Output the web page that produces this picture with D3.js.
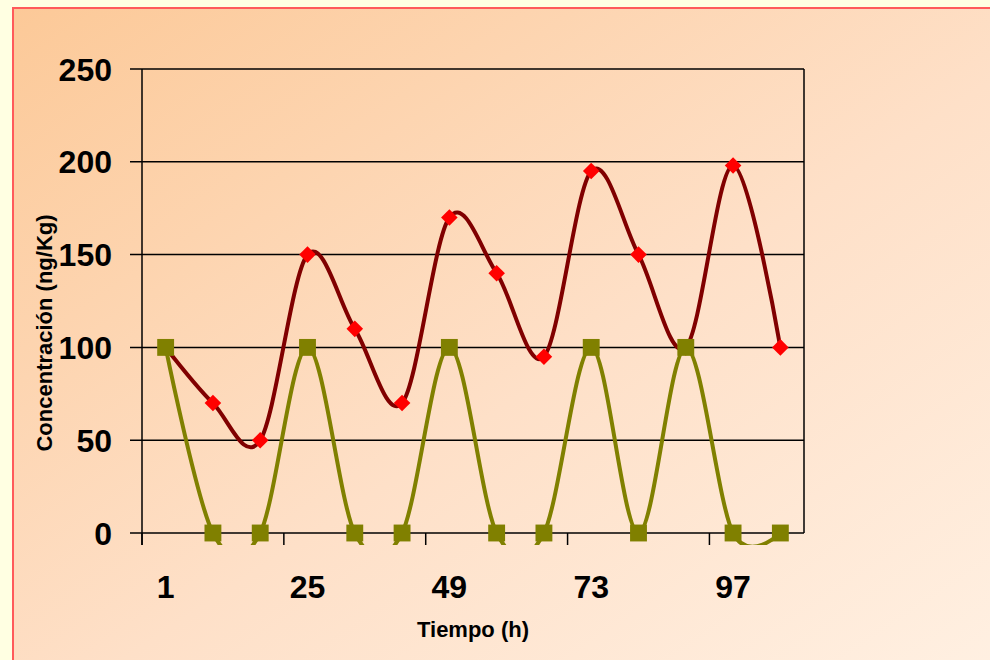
<!DOCTYPE html>
<html>
<head>
<meta charset="utf-8">
<script src="https://cdn.jsdelivr.net/npm/d3@7"></script>
<style>
  html, body { margin: 0; padding: 0; background: #ffffe2; }
  svg { display: block; font-family: "Liberation Sans", Arial, sans-serif; }
  .tickLabel { font-weight: bold; font-size: 32px; fill: #000; }
  .axisLabel { font-weight: bold; font-size: 22px; fill: #000; }
</style>
</head>
<body>
<div id="chart"></div>
<script>
  "use strict";
  // data
  const hours = [1, 9, 17, 25, 33, 41, 49, 57, 65, 73, 81, 89, 97, 105];
  const labelledHours = [1, 25, 49, 73, 97];
  const redValues = [100, 70, 50, 150, 110, 70, 170, 140, 95, 195, 150, 100, 198, 100];
  const greenValues = [100, 0, 0, 100, 0, 0, 100, 0, 0, 100, 0, 100, 0, 0];
  const yTicks = [0, 50, 100, 150, 200, 250];

  const svgWidth = 990, svgHeight = 660;
  const plot = { left: 142, right: 804, top: 69, bottom: 533 };

  const svg = d3.select("#chart").append("svg")
    .attr("width", svgWidth)
    .attr("height", svgHeight);

  const defs = svg.append("defs");
  const grad = defs.append("linearGradient")
    .attr("id", "bgGrad")
    .attr("x1", "0").attr("y1", "0").attr("x2", "1").attr("y2", "1");
  grad.append("stop").attr("offset", "0%").attr("stop-color", "#fcc998");
  grad.append("stop").attr("offset", "55%").attr("stop-color", "#fee0c8");
  grad.append("stop").attr("offset", "100%").attr("stop-color", "#fff0e2");

  defs.append("clipPath").attr("id", "plotClip")
    .append("rect")
    .attr("x", plot.left - 20).attr("y", plot.top - 20)
    .attr("width", plot.right - plot.left + 40)
    .attr("height", plot.bottom - plot.top + 32);

  // chart background with red frame
  svg.append("rect")
    .attr("x", 13).attr("y", 8)
    .attr("width", svgWidth).attr("height", svgHeight)
    .attr("fill", "url(#bgGrad)")
    .attr("stroke", "#ff5a5a")
    .attr("stroke-width", 2);

  const x = d3.scalePoint()
    .domain(hours)
    .range([plot.left, plot.right])
    .padding(0.5);
  const step = x.step();

  const y = d3.scaleLinear()
    .domain([0, 250])
    .range([plot.bottom, plot.top]);

  // gridlines + y ticks
  const yAxis = svg.append("g");
  yAxis.selectAll("line.grid")
    .data(yTicks)
    .enter()
    .append("line")
    .attr("x1", plot.left - 12)
    .attr("x2", plot.right)
    .attr("y1", (d) => y(d))
    .attr("y2", (d) => y(d))
    .attr("stroke", "#000")
    .attr("stroke-width", 1.5);
  yAxis.selectAll("text")
    .data(yTicks)
    .enter()
    .append("text")
    .attr("class", "tickLabel")
    .attr("x", 112)
    .attr("y", (d) => y(d))
    .attr("dy", "0.36em")
    .attr("text-anchor", "end")
    .text((d) => d);

  // plot frame (left and right)
  svg.append("line")
    .attr("x1", plot.left).attr("x2", plot.left)
    .attr("y1", plot.top).attr("y2", plot.bottom + 12)
    .attr("stroke", "#000").attr("stroke-width", 1.5);
  svg.append("line")
    .attr("x1", plot.right).attr("x2", plot.right)
    .attr("y1", plot.top).attr("y2", plot.bottom)
    .attr("stroke", "#000").attr("stroke-width", 1.5);

  // x ticks between every third category
  const tickPos = d3.range(0, hours.length, 3).map((i) => plot.left + i * step);
  svg.selectAll("line.xtick")
    .data(tickPos)
    .enter()
    .append("line")
    .attr("x1", (d) => d).attr("x2", (d) => d)
    .attr("y1", plot.bottom).attr("y2", plot.bottom + 12)
    .attr("stroke", "#000").attr("stroke-width", 1.5);
  svg.selectAll("text.xlabel")
    .data(labelledHours)
    .enter()
    .append("text")
    .attr("class", "tickLabel")
    .attr("x", (d) => x(d))
    .attr("y", 598)
    .attr("text-anchor", "middle")
    .text((d) => d);

  // axis titles
  svg.append("text")
    .attr("class", "axisLabel")
    .attr("x", 473)
    .attr("y", 637)
    .attr("text-anchor", "middle")
    .text("Tiempo (h)");
  svg.append("text")
    .attr("class", "axisLabel")
    .attr("transform", "translate(52,333) rotate(-90)")
    .attr("text-anchor", "middle")
    .text("Concentración (ng/Kg)");

  // series
  const line = d3.line()
    .x((d, i) => x(hours[i]))
    .y((d) => y(d))
    .curve(d3.curveCardinal.tension(0));

  const series = [
    { values: redValues, stroke: "#800000", fill: "#ff0000", symbol: d3.symbolDiamond2, size: 175 },
    { values: greenValues, stroke: "#808000", fill: "#808000", symbol: d3.symbolSquare, size: 285 },
  ];

  series.forEach((s) => {
    svg.append("path")
      .attr("clip-path", "url(#plotClip)")
      .attr("d", line(s.values))
      .attr("fill", "none")
      .attr("stroke", s.stroke)
      .attr("stroke-width", 4);
    svg.selectAll(null)
      .data(s.values)
      .enter()
      .append("path")
      .attr("d", d3.symbol().type(s.symbol).size(s.size))
      .attr("transform", (d, i) => "translate(" + x(hours[i]) + "," + y(d) + ")")
      .attr("fill", s.fill);
  });
</script>
</body>
</html>
